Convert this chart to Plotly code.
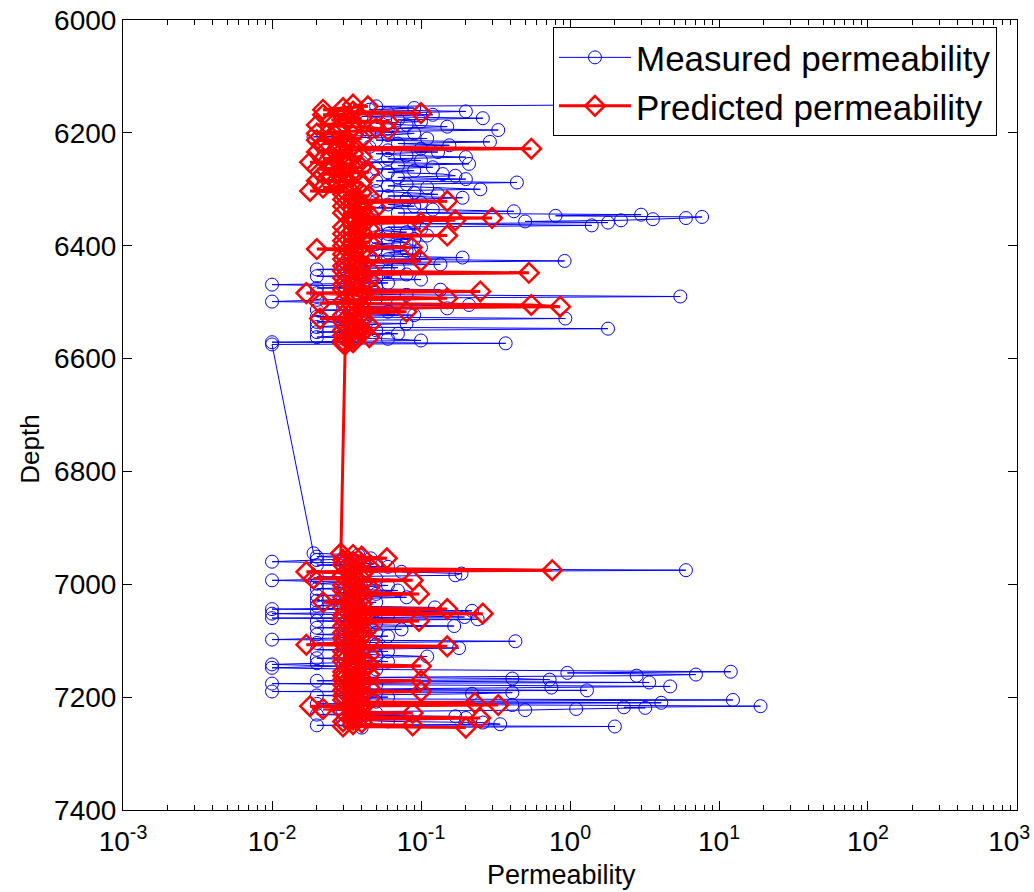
import plotly.graph_objects as go

# Core-plug depths (ft), shared by both series
depth_ft = [
    6150, 6153, 6156, 6159, 6162, 6165, 6168, 6171, 6174, 6177, 6180, 6183, 6186, 6189,
    6192, 6195, 6198, 6201, 6204, 6207, 6210, 6213, 6216, 6219, 6222, 6225, 6228, 6231,
    6234, 6237, 6240, 6243, 6246, 6249, 6252, 6255, 6258, 6261, 6264, 6267, 6270, 6273,
    6276, 6279, 6282, 6285, 6288, 6291, 6294, 6297, 6300, 6303, 6306, 6309, 6312, 6315,
    6318, 6321, 6324, 6327, 6330, 6333, 6336, 6339, 6342, 6345, 6347, 6349, 6351, 6353,
    6355, 6357, 6359, 6361, 6364, 6367, 6370, 6373, 6376, 6379, 6382, 6385, 6388, 6391,
    6394, 6397, 6400, 6403, 6406, 6409, 6412, 6415, 6418, 6421, 6424, 6427, 6430, 6433,
    6436, 6439, 6442, 6445, 6448, 6451, 6454, 6457, 6460, 6463, 6466, 6469, 6472, 6475,
    6478, 6481, 6484, 6487, 6490, 6493, 6496, 6499, 6502, 6505, 6508, 6511, 6514, 6517,
    6520, 6523, 6526, 6529, 6532, 6535, 6538, 6541, 6544, 6547, 6550, 6553, 6556, 6559,
    6562, 6565, 6568, 6571, 6573, 6575,
    6945, 6948, 6951, 6954, 6957, 6960, 6963, 6966, 6969, 6972, 6975, 6978, 6981, 6984,
    6987, 6990, 6993, 6996, 6999, 7002, 7005, 7008, 7011, 7014, 7017, 7020, 7023, 7026,
    7029, 7032, 7035, 7038, 7041, 7044, 7047, 7050, 7052, 7055, 7058, 7060, 7062, 7065,
    7068, 7071, 7074, 7077, 7080, 7083, 7086, 7089, 7092, 7095, 7098, 7101, 7104, 7107,
    7110, 7113, 7116, 7119, 7122, 7125, 7128, 7131, 7134, 7137, 7140, 7142, 7145, 7148,
    7151, 7155, 7157, 7160, 7162, 7165, 7167, 7169, 7171, 7174, 7176, 7178, 7181, 7183,
    7186, 7188, 7190, 7192, 7194, 7197, 7200, 7203, 7205, 7208, 7210, 7212, 7214, 7216,
    7218, 7219, 7221, 7223, 7226, 7228, 7231, 7234, 7237, 7240, 7243, 7245, 7248, 7250,
    7252, 7254,
]

# Laboratory-measured permeability (md)
measured_md = [
    3.0, 0.05, 0.09, 0.045, 0.2, 0.06, 0.12, 0.04, 0.26, 0.07, 0.1, 0.05, 0.08, 0.15,
    0.06, 0.33, 0.045, 0.09, 0.06, 0.019, 0.11, 0.05, 0.29, 0.07, 0.155, 0.045, 0.1, 0.06,
    0.13, 0.05, 0.08, 0.2, 0.06, 0.1, 0.04, 0.21, 0.07, 0.12, 0.05, 0.09, 0.06, 0.14,
    0.17, 0.07, 0.2, 0.05, 0.44, 0.08, 0.06, 0.11, 0.25, 0.05, 0.09, 0.13, 0.06, 0.19,
    0.08, 0.05, 0.1, 0.06, 0.09, 0.05, 0.12, 0.42, 0.07, 3.0, 0.8, 7.7, 6.0, 3.6,
    2.2, 0.5, 1.8, 0.09, 1.4, 0.06, 0.1, 0.05, 0.08, 0.06, 0.11, 0.05, 0.09, 0.06,
    0.08, 0.05, 0.07, 0.1, 0.05, 0.08, 0.06, 0.09, 0.045, 0.19, 0.06, 0.92, 0.04, 0.135,
    0.03, 0.07, 0.02, 0.06, 0.04, 0.08, 0.02, 0.05, 0.1, 0.03, 0.06, 0.01, 0.05, 0.02,
    0.135, 0.04, 0.02, 0.08, 5.5, 0.05, 0.02, 0.01, 0.07, 0.21, 0.03, 0.15, 0.02, 0.06,
    0.03, 0.09, 0.02, 0.93, 0.04, 0.02, 0.08, 0.03, 0.02, 1.8, 0.05, 0.02, 0.07, 0.03,
    0.02, 0.06, 0.1, 0.01, 0.37, 0.01,
    0.019, 0.038, 0.02, 0.046, 0.02, 0.01, 0.05, 0.02, 0.06, 0.03, 6.0, 0.074, 0.187, 0.17,
    0.02, 0.05, 0.01, 0.03, 0.02, 0.06, 0.04, 0.02, 0.07, 0.03, 0.05, 0.02, 0.08, 0.03,
    0.02, 0.05, 0.03, 0.02, 0.124, 0.01, 0.22, 0.02, 0.01, 0.06, 0.196, 0.01, 0.24, 0.02,
    0.05, 0.03, 0.167, 0.02, 0.074, 0.03, 0.05, 0.02, 0.06, 0.03, 0.01, 0.43, 0.02, 0.05,
    0.03, 0.18, 0.02, 0.06, 0.03, 0.05, 0.11, 0.02, 0.04, 0.06, 0.02, 0.01, 0.03, 0.01,
    0.05, 12.0, 0.96, 7.0, 2.8, 0.04, 0.41, 0.73, 0.02, 3.4, 0.01, 0.05, 4.7, 0.75,
    0.03, 1.3, 0.01, 0.41, 0.22, 0.02, 0.06, 0.03, 12.4, 0.05, 4.1, 0.02, 0.41, 19.0,
    2.3, 3.2, 1.1, 0.5, 0.03, 0.05, 0.02, 0.17, 0.2, 0.03, 0.06, 0.26, 0.34, 0.02,
    2.0, 0.04,
]

# Model-predicted permeability (md)
predicted_md = [
    0.035, 0.044, 0.03, 0.022, 0.035, 0.1, 0.022, 0.03, 0.04, 0.025, 0.06, 0.03, 0.02, 0.035,
    0.05, 0.06, 0.028, 0.02, 0.035, 0.025, 0.04, 0.02, 0.03, 0.022, 0.035, 0.028, 0.55, 0.03,
    0.02, 0.035, 0.025, 0.04, 0.022, 0.03, 0.018, 0.035, 0.025, 0.04, 0.02, 0.03, 0.045, 0.022,
    0.035, 0.025, 0.03, 0.02, 0.04, 0.028, 0.035, 0.022, 0.03, 0.018, 0.04, 0.03, 0.045, 0.035,
    0.03, 0.15, 0.035, 0.04, 0.03, 0.05, 0.035, 0.04, 0.03, 0.045, 0.035, 0.04, 0.3, 0.035,
    0.17, 0.04, 0.1, 0.035, 0.04, 0.03, 0.045, 0.035, 0.04, 0.03, 0.15, 0.035, 0.04, 0.03,
    0.045, 0.035, 0.03, 0.087, 0.02, 0.035, 0.04, 0.03, 0.035, 0.045, 0.03, 0.1, 0.035, 0.04,
    0.03, 0.035, 0.045, 0.03, 0.53, 0.04, 0.035, 0.03, 0.045, 0.035, 0.04, 0.03, 0.035, 0.045,
    0.03, 0.25, 0.017, 0.035, 0.04, 0.15, 0.035, 0.03, 0.021, 0.55, 0.86, 0.04, 0.035, 0.08,
    0.04, 0.03, 0.035, 0.021, 0.04, 0.03, 0.035, 0.045, 0.035, 0.04, 0.03, 0.035, 0.04, 0.03,
    0.045, 0.035, 0.03, 0.035, 0.03, 0.031,
    0.029, 0.035, 0.04, 0.059, 0.03, 0.035, 0.04, 0.03, 0.045, 0.035, 0.76, 0.017, 0.04, 0.03,
    0.035, 0.019, 0.088, 0.035, 0.04, 0.03, 0.045, 0.035, 0.03, 0.04, 0.097, 0.035, 0.03, 0.04,
    0.035, 0.022, 0.04, 0.035, 0.03, 0.15, 0.04, 0.035, 0.26, 0.03, 0.04, 0.035, 0.03, 0.097,
    0.04, 0.035, 0.03, 0.045, 0.035, 0.04, 0.03, 0.035, 0.04, 0.03, 0.035, 0.045, 0.03, 0.017,
    0.15, 0.035, 0.04, 0.03, 0.035, 0.045, 0.03, 0.035, 0.04, 0.03, 0.035, 0.045, 0.1, 0.035,
    0.04, 0.03, 0.035, 0.045, 0.03, 0.035, 0.04, 0.03, 0.1, 0.035, 0.04, 0.03, 0.035, 0.045,
    0.035, 0.03, 0.1, 0.035, 0.04, 0.03, 0.035, 0.045, 0.03, 0.035, 0.23, 0.04, 0.33, 0.018,
    0.035, 0.04, 0.022, 0.035, 0.03, 0.088, 0.035, 0.04, 0.25, 0.035, 0.03, 0.04, 0.035, 0.088,
    0.03, 0.2,
]

x_tick_vals = [1e-3, 1e-2, 1e-1, 1e0, 1e1, 1e2, 1e3]
x_tick_text = ["10<sup>-3</sup>", "10<sup>-2</sup>", "10<sup>-1</sup>", "10<sup>0</sup>",
               "10<sup>1</sup>", "10<sup>2</sup>", "10<sup>3</sup>\u00a0\u00a0"]
x_minor_vals = [m * 10.0 ** e for e in range(-3, 3) for m in range(2, 10)]
y_tick_vals = [6000, 6200, 6400, 6600, 6800, 7000, 7200, 7400]

FONT = "Liberation Sans, Arial, Helvetica, sans-serif"

fig = go.Figure()
fig.add_trace(go.Scatter(
    x=measured_md, y=depth_ft, name="Measured permeability",
    mode="lines+markers",
    line=dict(color="#0000ff", width=1),
    marker=dict(symbol="circle-open", size=13, color="#0000ff", line=dict(width=1, color="#0000ff")),
))
fig.add_trace(go.Scatter(
    x=predicted_md, y=depth_ft, name="Predicted permeability",
    mode="lines+markers",
    line=dict(color="#ff0000", width=3),
    marker=dict(symbol="diamond-open", size=15, color="#ff0000", line=dict(width=2.5, color="#ff0000")),
))

fig.update_layout(
    width=1034, height=892,
    margin=dict(l=123, r=17, t=20, b=82, autoexpand=False),
    paper_bgcolor="white", plot_bgcolor="white",
    font=dict(family=FONT, color="black"),
    showlegend=True,
    legend=dict(
        x=0.9776, y=0.991, xanchor="right", yanchor="top",
        bgcolor="white", bordercolor="black", borderwidth=1,
        font=dict(size=35, family=FONT, color="black"),
        tracegroupgap=0, itemwidth=72,
    ),
    annotations=[
        dict(text="Permeability", xref="paper", yref="paper", x=0.49, y=-0.082,
             xanchor="center", yanchor="middle", showarrow=False,
             font=dict(size=27, family=FONT, color="black")),
        dict(text="Depth", xref="paper", yref="paper", x=-0.104, y=0.456,
             xanchor="center", yanchor="middle", showarrow=False, textangle=-90,
             font=dict(size=26, family=FONT, color="black")),
    ],
)

fig.update_xaxes(
    type="log", range=[-3.0001, 3.0001], automargin=False,
    tickmode="array", tickvals=x_tick_vals, ticktext=x_tick_text,
    tickfont=dict(size=28, family=FONT),
    ticks="inside", ticklen=9, tickwidth=1, tickcolor="black",
    ticklabelstandoff=6, ticklabeloverflow="allow",
    minor=dict(tickmode="array", tickvals=x_minor_vals, ticks="inside", ticklen=5, tickcolor="black"),
    showline=True, linecolor="black", linewidth=1, mirror="ticks",
    showgrid=False, zeroline=False,
)
fig.update_yaxes(
    range=[7400, 6000], automargin=False,
    tickmode="array", tickvals=y_tick_vals,
    tickfont=dict(size=28, family=FONT),
    ticks="inside", ticklen=9, tickwidth=1, tickcolor="black",
    showline=True, linecolor="black", linewidth=1, mirror="ticks",
    showgrid=False, zeroline=False,
)

fig.write_html("out.html")
